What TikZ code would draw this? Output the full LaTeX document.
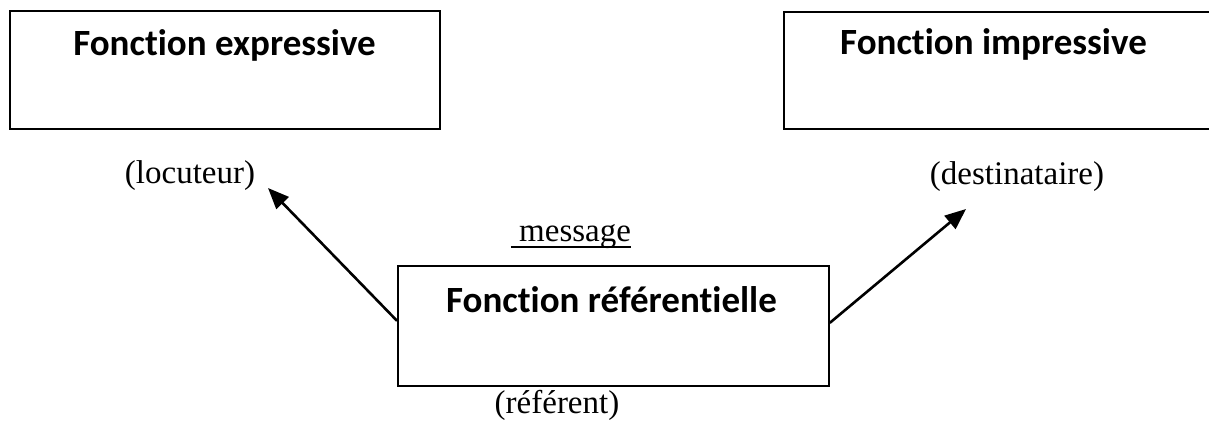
\documentclass[tikz,border=0pt]{standalone}
\usepackage{fontspec}
\setmainfont{Liberation Serif}
\newfontfamily\titlefont[Ligatures=NoCommon]{Carlito}
\usetikzlibrary{arrows.meta,calc}
% underline with a heavier rule, placed just under the descenders
\newcommand\heavyul[1]{\setbox0\hbox{#1}\rlap{\rule[-7pt]{\wd0}{2pt}}\box0}
\tikzset{
  fbox/.style={draw=black, line width=1.8pt, inner sep=0pt, anchor=north west},
  ftitle/.style={font=\titlefont\bfseries\fontsize{37}{44}\selectfont, inner sep=0pt, anchor=base},
  flabel/.style={font=\fontsize{33}{39}\selectfont, inner sep=0pt, anchor=base},
  farrow/.style={line width=2.6pt, -{Triangle[length=21pt,width=17pt]}}
}
\begin{document}
\begin{tikzpicture}[x=1pt,y=-1pt]
  \clip (0,0) rectangle (1209,429);
  \fill[white] (0,0) rectangle (1209,429);

  % the three function boxes
  \node[fbox, minimum width=430pt, minimum height=118pt] (expr) at (9,10) {};
  \node[fbox, minimum width=450pt, minimum height=117pt] (impr) at (783,11) {};
  \node[fbox, minimum width=431pt, minimum height=120pt] (ref) at (397,265) {};

  % box titles
  \node[ftitle] (exprT) at (224.5,55) {Fonction expressive};
  \node[ftitle] (imprT) at (993.5,54) {Fonction impressive};
  \node[ftitle] (refT) at (611.5,312) {Fonction référentielle};

  % participant labels
  \node[flabel] (loc) at (190,183) {(locuteur)};
  \node[flabel] (dest) at (1017,184) {(destinataire)};
  \node[flabel] (msg) at (571,241) {\heavyul{\ message}};
  \node[flabel] (refr) at (557,413) {(référent)};

  % arrow end points
  \coordinate (locTip) at (268,188);
  \coordinate (destTip) at (966,209);

  \draw[farrow] ($(ref.north west)!0.458!(ref.south west)$) -- (locTip);
  \draw[farrow] ($(ref.north east)!0.475!(ref.south east)$) -- (destTip);
\end{tikzpicture}
\end{document}
